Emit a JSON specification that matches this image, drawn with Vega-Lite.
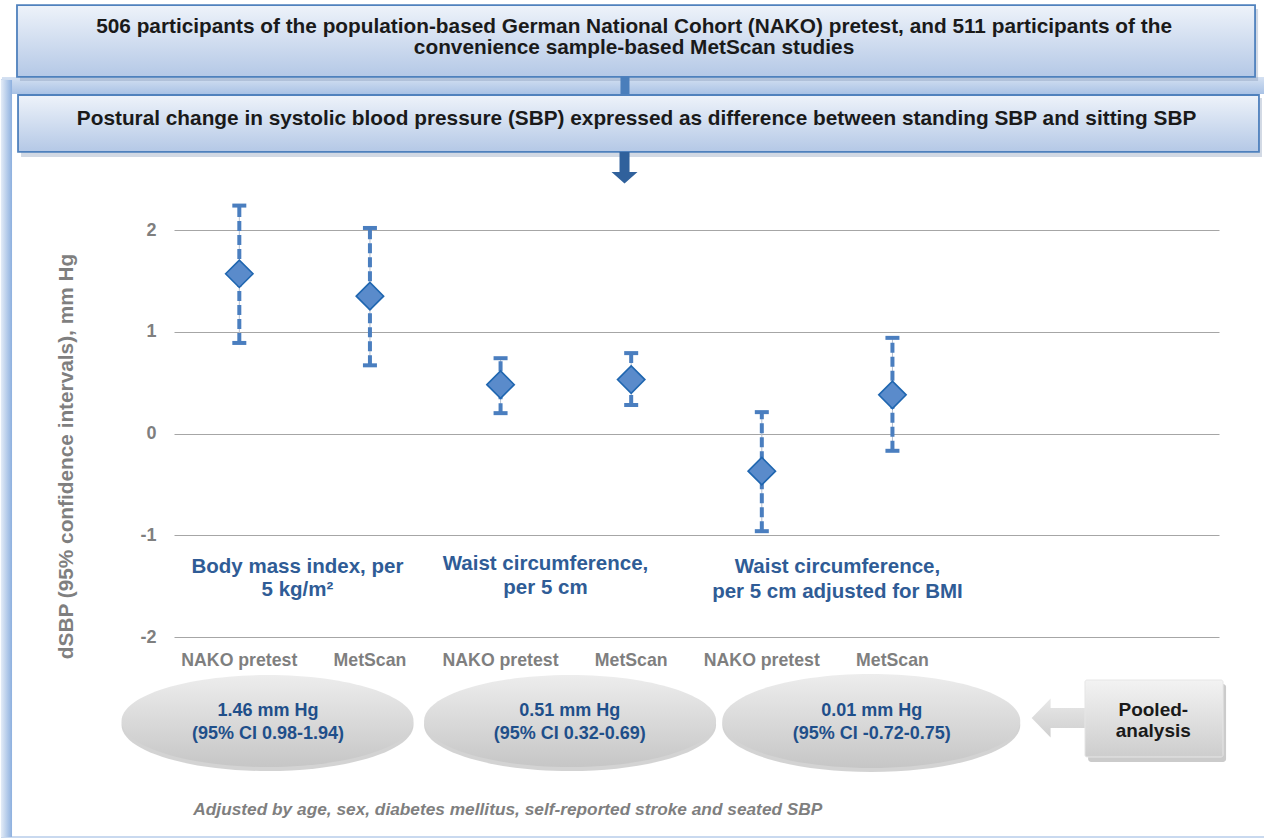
{
  "$schema": "https://vega.github.io/schema/vega-lite/v6.json",
  "width": 1045,
  "height": 407,
  "autosize": {"type": "none"},
  "padding": {"left": 174, "top": 230, "right": 45, "bottom": 201},
  "background": "white",
  "config": {"view": {"stroke": null}, "font": "Liberation Sans"},
  "resolve": {"scale": {"x": "independent", "y": "independent"}},
  "layer": [
    {
      "data": {"values": [{}]},
      "layer": [
        {"mark": {"type": "rect", "fillOpacity": 0, "stroke": "#c9d9ef", "strokeWidth": 2},
         "encoding": {"x": {"datum": -1.317, "type": "quantitative", "scale": {"domain": [0, 8], "nice": false, "zero": false}, "axis": null}, "x2": {"datum": 8.5},
                      "y": {"datum": 3.474, "type": "quantitative", "scale": {"domain": [-2, 2], "nice": false, "zero": false}, "axis": null}, "y2": {"datum": -3.966}}},
        {"mark": {"type": "rect", "fill": {"gradient": "linear", "x1": 0, "y1": 0, "x2": 0, "y2": 1, "stops": [{"offset": 0, "color": "#d5e1f2"}, {"offset": 1, "color": "#a9c2e5"}]}},
         "encoding": {"x": {"datum": -1.317, "type": "quantitative", "scale": {"domain": [0, 8], "nice": false, "zero": false}, "axis": null}, "x2": {"datum": 8.391},
                      "y": {"datum": 3.504, "type": "quantitative", "scale": {"domain": [-2, 2], "nice": false, "zero": false}, "axis": null}, "y2": {"datum": 3.336}}},
        {"mark": {"type": "rect", "fill": {"gradient": "linear", "x1": 0, "y1": 0, "x2": 1, "y2": 0, "stops": [{"offset": 0, "color": "#e4ecf7"}, {"offset": 1, "color": "#8db0df"}]}},
         "encoding": {"x": {"datum": -1.325, "type": "quantitative", "scale": {"domain": [0, 8], "nice": false, "zero": false}, "axis": null}, "x2": {"datum": -1.24},
                      "y": {"datum": 3.474, "type": "quantitative", "scale": {"domain": [-2, 2], "nice": false, "zero": false}, "axis": null}, "y2": {"datum": -3.966}}},
        {"mark": {"type": "rect", "fill": "#7f93b3", "opacity": 0.35},
         "encoding": {"x": {"datum": -1.179, "type": "quantitative", "scale": {"domain": [0, 8], "nice": false, "zero": false}, "axis": null}, "x2": {"datum": 8.299},
                      "y": {"datum": 4.172, "type": "quantitative", "scale": {"domain": [-2, 2], "nice": false, "zero": false}, "axis": null}, "y2": {"datum": 3.464}}},
        {"mark": {"type": "rect", "stroke": "#4f81bd", "strokeWidth": 1.8, "fill": {"gradient": "linear", "x1": 0, "y1": 0, "x2": 0, "y2": 1, "stops": [{"offset": 0, "color": "#eef3fa"}, {"offset": 1, "color": "#b4c8e6"}]}},
         "encoding": {"x": {"datum": -1.202, "type": "quantitative", "scale": {"domain": [0, 8], "nice": false, "zero": false}, "axis": null}, "x2": {"datum": 8.276},
                      "y": {"datum": 4.211, "type": "quantitative", "scale": {"domain": [-2, 2], "nice": false, "zero": false}, "axis": null}, "y2": {"datum": 3.504}}},
        {"mark": {"type": "rect", "fill": "#4a7ebb"},
         "encoding": {"x": {"datum": 3.418, "type": "quantitative", "scale": {"domain": [0, 8], "nice": false, "zero": false}, "axis": null}, "x2": {"datum": 3.487},
                      "y": {"datum": 3.504, "type": "quantitative", "scale": {"domain": [-2, 2], "nice": false, "zero": false}, "axis": null}, "y2": {"datum": 3.327}}},
        {"mark": {"type": "text", "text": ["506 participants of the population-based German National Cohort (NAKO) pretest, and 511 participants of the", "convenience sample-based MetScan studies"], "fontSize": 20.8, "fontWeight": "bold", "color": "#1a1a1a", "align": "center", "baseline": "middle", "lineHeight": 21.6},
         "encoding": {"x": {"datum": 3.522, "type": "quantitative", "scale": {"domain": [0, 8], "nice": false, "zero": false}, "axis": null},
                      "y": {"datum": 3.998, "type": "quantitative", "scale": {"domain": [-2, 2], "nice": false, "zero": false}, "axis": null}}},
        {"mark": {"type": "rect", "fill": "#7f93b3", "opacity": 0.35},
         "encoding": {"x": {"datum": -1.171, "type": "quantitative", "scale": {"domain": [0, 8], "nice": false, "zero": false}, "axis": null}, "x2": {"datum": 8.329},
                      "y": {"datum": 3.297, "type": "quantitative", "scale": {"domain": [-2, 2], "nice": false, "zero": false}, "axis": null}, "y2": {"datum": 2.717}}},
        {"mark": {"type": "rect", "stroke": "#4f81bd", "strokeWidth": 1.8, "fill": {"gradient": "linear", "x1": 0, "y1": 0, "x2": 0, "y2": 1, "stops": [{"offset": 0, "color": "#eef3fa"}, {"offset": 1, "color": "#b4c8e6"}]}},
         "encoding": {"x": {"datum": -1.194, "type": "quantitative", "scale": {"domain": [0, 8], "nice": false, "zero": false}, "axis": null}, "x2": {"datum": 8.306},
                      "y": {"datum": 3.327, "type": "quantitative", "scale": {"domain": [-2, 2], "nice": false, "zero": false}, "axis": null}, "y2": {"datum": 2.767}}},
        {"mark": {"type": "text", "text": "Postural change in systolic blood pressure (SBP) expressed as difference between standing SBP and sitting SBP", "fontSize": 20.8, "fontWeight": "bold", "color": "#1a1a1a", "align": "center", "baseline": "middle"},
         "encoding": {"x": {"datum": 3.541, "type": "quantitative", "scale": {"domain": [0, 8], "nice": false, "zero": false}, "axis": null},
                      "y": {"datum": 3.088, "type": "quantitative", "scale": {"domain": [-2, 2], "nice": false, "zero": false}, "axis": null}}},
        {"mark": {"type": "point", "shape": "M-0.385,0L0.385,0L0.385,1.54L1,1.54L0,2.425L-1,1.54L-0.385,1.54Z", "size": 676, "filled": true, "fill": "#30619c", "opacity": 1, "strokeWidth": 0},
         "encoding": {"x": {"datum": 3.449, "type": "quantitative", "scale": {"domain": [0, 8], "nice": false, "zero": false}, "axis": null},
                      "y": {"datum": 2.767, "type": "quantitative", "scale": {"domain": [-2, 2], "nice": false, "zero": false}, "axis": null}}},
        {"mark": {"type": "text", "text": ["Body mass index, per", "5 kg/m²"], "fontSize": 20.5, "fontWeight": "bold", "color": "#2f5c96", "align": "center", "baseline": "middle", "lineHeight": 23.5},
         "encoding": {"x": {"datum": 0.945, "type": "quantitative", "scale": {"domain": [0, 8], "nice": false, "zero": false}, "axis": null},
                      "y": {"datum": -1.309, "type": "quantitative", "scale": {"domain": [-2, 2], "nice": false, "zero": false}, "axis": null}}},
        {"mark": {"type": "text", "text": ["Waist circumference,", "per 5 cm"], "fontSize": 20.5, "fontWeight": "bold", "color": "#2f5c96", "align": "center", "baseline": "middle", "lineHeight": 24},
         "encoding": {"x": {"datum": 2.844, "type": "quantitative", "scale": {"domain": [0, 8], "nice": false, "zero": false}, "axis": null},
                      "y": {"datum": -1.286, "type": "quantitative", "scale": {"domain": [-2, 2], "nice": false, "zero": false}, "axis": null}}},
        {"mark": {"type": "text", "text": ["Waist circumference,", "per 5 cm adjusted for BMI"], "fontSize": 20.5, "fontWeight": "bold", "color": "#2f5c96", "align": "center", "baseline": "middle", "lineHeight": 25},
         "encoding": {"x": {"datum": 5.079, "type": "quantitative", "scale": {"domain": [0, 8], "nice": false, "zero": false}, "axis": null},
                      "y": {"datum": -1.309, "type": "quantitative", "scale": {"domain": [-2, 2], "nice": false, "zero": false}, "axis": null}}},
        {"mark": {"type": "point", "shape": "M-1,0C-1,-0.174,-0.5523,-0.315,0,-0.315C0.5523,-0.315,1,-0.174,1,0C1,0.174,0.5523,0.315,0,0.315C-0.5523,0.315,-1,0.174,-1,0Z", "size": 85264, "filled": true, "fill": "#a8a8a8", "opacity": 0.5, "strokeWidth": 0, "yOffset": 4},
         "encoding": {"x": {"datum": 0.716, "type": "quantitative", "scale": {"domain": [0, 8], "nice": false, "zero": false}, "axis": null},
                      "y": {"datum": -2.826, "type": "quantitative", "scale": {"domain": [-2, 2], "nice": false, "zero": false}, "axis": null}}},
        {"mark": {"type": "point", "shape": "M-1,0C-1,-0.174,-0.5523,-0.315,0,-0.315C0.5523,-0.315,1,-0.174,1,0C1,0.174,0.5523,0.315,0,0.315C-0.5523,0.315,-1,0.174,-1,0Z", "size": 85264, "filled": true, "fill": "#a8a8a8", "opacity": 0.5, "strokeWidth": 0, "yOffset": 4},
         "encoding": {"x": {"datum": 3.032, "type": "quantitative", "scale": {"domain": [0, 8], "nice": false, "zero": false}, "axis": null},
                      "y": {"datum": -2.826, "type": "quantitative", "scale": {"domain": [-2, 2], "nice": false, "zero": false}, "axis": null}}},
        {"mark": {"type": "point", "shape": "M-1,0C-1,-0.174,-0.5523,-0.315,0,-0.315C0.5523,-0.315,1,-0.174,1,0C1,0.174,0.5523,0.315,0,0.315C-0.5523,0.315,-1,0.174,-1,0Z", "size": 88804, "filled": true, "fill": "#a8a8a8", "opacity": 0.5, "strokeWidth": 0, "yOffset": 4},
         "encoding": {"x": {"datum": 5.338, "type": "quantitative", "scale": {"domain": [0, 8], "nice": false, "zero": false}, "axis": null},
                      "y": {"datum": -2.826, "type": "quantitative", "scale": {"domain": [-2, 2], "nice": false, "zero": false}, "axis": null}}},
        {"mark": {"type": "point", "shape": "M-1,0C-1,-0.174,-0.5523,-0.315,0,-0.315C0.5523,-0.315,1,-0.174,1,0C1,0.174,0.5523,0.315,0,0.315C-0.5523,0.315,-1,0.174,-1,0Z", "size": 85264, "filled": true, "opacity": 1, "strokeWidth": 0, "fill": {"gradient": "linear", "x1": 0, "y1": 0, "x2": 0, "y2": 1, "stops": [{"offset": 0, "color": "#ededed"}, {"offset": 1, "color": "#c6c6c6"}]}},
         "encoding": {"x": {"datum": 0.716, "type": "quantitative", "scale": {"domain": [0, 8], "nice": false, "zero": false}, "axis": null},
                      "y": {"datum": -2.826, "type": "quantitative", "scale": {"domain": [-2, 2], "nice": false, "zero": false}, "axis": null}}},
        {"mark": {"type": "point", "shape": "M-1,0C-1,-0.174,-0.5523,-0.315,0,-0.315C0.5523,-0.315,1,-0.174,1,0C1,0.174,0.5523,0.315,0,0.315C-0.5523,0.315,-1,0.174,-1,0Z", "size": 85264, "filled": true, "opacity": 1, "strokeWidth": 0, "fill": {"gradient": "linear", "x1": 0, "y1": 0, "x2": 0, "y2": 1, "stops": [{"offset": 0, "color": "#ededed"}, {"offset": 1, "color": "#c6c6c6"}]}},
         "encoding": {"x": {"datum": 3.032, "type": "quantitative", "scale": {"domain": [0, 8], "nice": false, "zero": false}, "axis": null},
                      "y": {"datum": -2.826, "type": "quantitative", "scale": {"domain": [-2, 2], "nice": false, "zero": false}, "axis": null}}},
        {"mark": {"type": "point", "shape": "M-1,0C-1,-0.174,-0.5523,-0.315,0,-0.315C0.5523,-0.315,1,-0.174,1,0C1,0.174,0.5523,0.315,0,0.315C-0.5523,0.315,-1,0.174,-1,0Z", "size": 88804, "filled": true, "opacity": 1, "strokeWidth": 0, "fill": {"gradient": "linear", "x1": 0, "y1": 0, "x2": 0, "y2": 1, "stops": [{"offset": 0, "color": "#ededed"}, {"offset": 1, "color": "#c6c6c6"}]}},
         "encoding": {"x": {"datum": 5.338, "type": "quantitative", "scale": {"domain": [0, 8], "nice": false, "zero": false}, "axis": null},
                      "y": {"datum": -2.826, "type": "quantitative", "scale": {"domain": [-2, 2], "nice": false, "zero": false}, "axis": null}}},
        {"mark": {"type": "text", "text": ["1.46 mm Hg", "(95% CI 0.98-1.94)"], "fontSize": 18, "fontWeight": "bold", "color": "#1f4f8a", "align": "center", "baseline": "middle", "lineHeight": 22.7},
         "encoding": {"x": {"datum": 0.72, "type": "quantitative", "scale": {"domain": [0, 8], "nice": false, "zero": false}, "axis": null},
                      "y": {"datum": -2.732, "type": "quantitative", "scale": {"domain": [-2, 2], "nice": false, "zero": false}, "axis": null}}},
        {"mark": {"type": "text", "text": ["0.51 mm Hg", "(95% CI 0.32-0.69)"], "fontSize": 18, "fontWeight": "bold", "color": "#1f4f8a", "align": "center", "baseline": "middle", "lineHeight": 22.7},
         "encoding": {"x": {"datum": 3.029, "type": "quantitative", "scale": {"domain": [0, 8], "nice": false, "zero": false}, "axis": null},
                      "y": {"datum": -2.732, "type": "quantitative", "scale": {"domain": [-2, 2], "nice": false, "zero": false}, "axis": null}}},
        {"mark": {"type": "text", "text": ["0.01 mm Hg", "(95% CI -0.72-0.75)"], "fontSize": 18, "fontWeight": "bold", "color": "#1f4f8a", "align": "center", "baseline": "middle", "lineHeight": 22.7},
         "encoding": {"x": {"datum": 5.341, "type": "quantitative", "scale": {"domain": [0, 8], "nice": false, "zero": false}, "axis": null},
                      "y": {"datum": -2.732, "type": "quantitative", "scale": {"domain": [-2, 2], "nice": false, "zero": false}, "axis": null}}},
        {"mark": {"type": "point", "shape": "M0,0L0.97,-1L0.97,-0.51L2.74,-0.51L2.74,0.51L0.97,0.51L0.97,1Z", "size": 1521, "filled": true, "opacity": 1, "strokeWidth": 0, "fill": {"gradient": "linear", "x1": 0, "y1": 0, "x2": 0, "y2": 1, "stops": [{"offset": 0, "color": "#e8e8e8"}, {"offset": 1, "color": "#cfcfcf"}]}},
         "encoding": {"x": {"datum": 6.566, "type": "quantitative", "scale": {"domain": [0, 8], "nice": false, "zero": false}, "axis": null},
                      "y": {"datum": -2.796, "type": "quantitative", "scale": {"domain": [-2, 2], "nice": false, "zero": false}, "axis": null}}},
        {"mark": {"type": "rect", "fill": "#8c8c8c", "opacity": 0.45, "cornerRadius": 3},
         "encoding": {"x": {"datum": 6.998, "type": "quantitative", "scale": {"domain": [0, 8], "nice": false, "zero": false}, "axis": null}, "x2": {"datum": 8.054},
                      "y": {"datum": -2.462, "type": "quantitative", "scale": {"domain": [-2, 2], "nice": false, "zero": false}, "axis": null}, "y2": {"datum": -3.229}}},
        {"mark": {"type": "rect", "cornerRadius": 2, "stroke": "#e6e6e6", "strokeWidth": 1, "fill": {"gradient": "linear", "x1": 0, "y1": 0, "x2": 0, "y2": 1, "stops": [{"offset": 0, "color": "#f3f3f3"}, {"offset": 1, "color": "#cdcdcd"}]}},
         "encoding": {"x": {"datum": 6.974, "type": "quantitative", "scale": {"domain": [0, 8], "nice": false, "zero": false}, "axis": null}, "x2": {"datum": 8.031},
                      "y": {"datum": -2.423, "type": "quantitative", "scale": {"domain": [-2, 2], "nice": false, "zero": false}, "axis": null}, "y2": {"datum": -3.179}}},
        {"mark": {"type": "text", "text": ["Pooled-", "analysis"], "fontSize": 19, "fontWeight": "bold", "color": "#1a1a1a", "align": "center", "baseline": "middle", "lineHeight": 21.7},
         "encoding": {"x": {"datum": 7.497, "type": "quantitative", "scale": {"domain": [0, 8], "nice": false, "zero": false}, "axis": null},
                      "y": {"datum": -2.715, "type": "quantitative", "scale": {"domain": [-2, 2], "nice": false, "zero": false}, "axis": null}}},
        {"mark": {"type": "text", "text": "Adjusted by age, sex, diabetes mellitus, self-reported stroke and seated SBP", "fontSize": 17.3, "fontWeight": "bold", "fontStyle": "italic", "color": "#7f7f7f", "align": "left", "baseline": "middle"},
         "encoding": {"x": {"datum": 0.148, "type": "quantitative", "scale": {"domain": [0, 8], "nice": false, "zero": false}, "axis": null},
                      "y": {"datum": -3.7, "type": "quantitative", "scale": {"domain": [-2, 2], "nice": false, "zero": false}, "axis": null}}}
      ]
    },
    {
      "data": {"values": [
        {"group": "BMI: NAKO pretest", "exposure": "Body mass index, per 5 kg/m²", "study": "NAKO pretest", "est": 1.57, "lo": 0.89, "hi": 2.24},
        {"group": "BMI: MetScan", "exposure": "Body mass index, per 5 kg/m²", "study": "MetScan", "est": 1.35, "lo": 0.67, "hi": 2.02},
        {"group": "Waist: NAKO pretest", "exposure": "Waist circumference, per 5 cm", "study": "NAKO pretest", "est": 0.48, "lo": 0.2, "hi": 0.74},
        {"group": "Waist: MetScan", "exposure": "Waist circumference, per 5 cm", "study": "MetScan", "est": 0.53, "lo": 0.28, "hi": 0.79},
        {"group": "Waist adj. BMI: NAKO pretest", "exposure": "Waist circumference, per 5 cm adjusted for BMI", "study": "NAKO pretest", "est": -0.37, "lo": -0.96, "hi": 0.21},
        {"group": "Waist adj. BMI: MetScan", "exposure": "Waist circumference, per 5 cm adjusted for BMI", "study": "MetScan", "est": 0.38, "lo": -0.17, "hi": 0.94}
      ]},
      "encoding": {
        "x": {"field": "group", "type": "nominal", "sort": null,
              "scale": {"type": "band", "paddingInner": 0, "paddingOuter": 0,
                        "domain": ["BMI: NAKO pretest", "BMI: MetScan", "Waist: NAKO pretest", "Waist: MetScan", "Waist adj. BMI: NAKO pretest", "Waist adj. BMI: MetScan", "(empty 1)", "(empty 2)"]},
              "axis": {"title": null, "labelAngle": 0, "domain": false, "ticks": false, "tickSize": 0, "grid": false, "labelPadding": 14,
                       "labelFontSize": 17.7, "labelFontWeight": "bold", "labelColor": "#7f7f7f", "labelFont": "Liberation Sans",
                       "labelExpr": "indexof(datum.label, ': ') < 0 ? '' : split(datum.label, ': ')[1]"}}
      },
      "layer": [
        {"mark": {"type": "rule", "color": "#b3bfd0", "strokeWidth": 1},
         "encoding": {"y": {"field": "lo", "type": "quantitative", "title": "dSBP (95% confidence intervals), mm Hg", "scale": {"domain": [-2, 2], "nice": false, "zero": false},
                            "axis": {"values": [-2, -1, 0, 1, 2], "grid": true, "gridColor": "#a6a6a6", "gridWidth": 1, "domain": false, "ticks": false, "tickSize": 0,
                                     "labelPadding": 18, "labelFontSize": 18, "labelFontWeight": "bold", "labelColor": "#7f7f7f", "labelFont": "Liberation Sans",
                                     "labelExpr": "toString(datum.value)",
                                     "titleX": -108, "titleY": 226, "titleAngle": 270,
                                     "titleAlign": "center", "titleBaseline": "middle", "titleFontSize": 20.8, "titleFontWeight": "bold", "titleColor": "#7f7f7f", "titleFont": "Liberation Sans"}},
                      "y2": {"field": "hi"}}},
        {"mark": {"type": "rule", "color": "#4a7ebf", "strokeWidth": 4, "strokeDash": [10, 4]},
         "encoding": {"y": {"field": "lo", "type": "quantitative", "title": "dSBP (95% confidence intervals), mm Hg", "scale": {"domain": [-2, 2], "nice": false, "zero": false},
                            "axis": {"values": [-2, -1, 0, 1, 2], "grid": true, "gridColor": "#a6a6a6", "gridWidth": 1, "domain": false, "ticks": false, "tickSize": 0,
                                     "labelPadding": 18, "labelFontSize": 18, "labelFontWeight": "bold", "labelColor": "#7f7f7f", "labelFont": "Liberation Sans",
                                     "labelExpr": "toString(datum.value)",
                                     "titleX": -108, "titleY": 226, "titleAngle": 270,
                                     "titleAlign": "center", "titleBaseline": "middle", "titleFontSize": 20.8, "titleFontWeight": "bold", "titleColor": "#7f7f7f", "titleFont": "Liberation Sans"}},
                      "y2": {"field": "hi"}}},
        {"mark": {"type": "tick", "color": "#4a7ebf", "size": 14, "thickness": 4, "orient": "horizontal", "opacity": 1},
         "encoding": {"y": {"field": "lo", "type": "quantitative", "title": "dSBP (95% confidence intervals), mm Hg", "scale": {"domain": [-2, 2], "nice": false, "zero": false},
                            "axis": {"values": [-2, -1, 0, 1, 2], "grid": true, "gridColor": "#a6a6a6", "gridWidth": 1, "domain": false, "ticks": false, "tickSize": 0,
                                     "labelPadding": 18, "labelFontSize": 18, "labelFontWeight": "bold", "labelColor": "#7f7f7f", "labelFont": "Liberation Sans",
                                     "labelExpr": "toString(datum.value)",
                                     "titleX": -108, "titleY": 226, "titleAngle": 270,
                                     "titleAlign": "center", "titleBaseline": "middle", "titleFontSize": 20.8, "titleFontWeight": "bold", "titleColor": "#7f7f7f", "titleFont": "Liberation Sans"}}}},
        {"mark": {"type": "tick", "color": "#4a7ebf", "size": 14, "thickness": 4, "orient": "horizontal", "opacity": 1},
         "encoding": {"y": {"field": "hi", "type": "quantitative", "title": "dSBP (95% confidence intervals), mm Hg", "scale": {"domain": [-2, 2], "nice": false, "zero": false},
                            "axis": {"values": [-2, -1, 0, 1, 2], "grid": true, "gridColor": "#a6a6a6", "gridWidth": 1, "domain": false, "ticks": false, "tickSize": 0,
                                     "labelPadding": 18, "labelFontSize": 18, "labelFontWeight": "bold", "labelColor": "#7f7f7f", "labelFont": "Liberation Sans",
                                     "labelExpr": "toString(datum.value)",
                                     "titleX": -108, "titleY": 226, "titleAngle": 270,
                                     "titleAlign": "center", "titleBaseline": "middle", "titleFontSize": 20.8, "titleFontWeight": "bold", "titleColor": "#7f7f7f", "titleFont": "Liberation Sans"}}}},
        {"mark": {"type": "point", "shape": "diamond", "size": 750, "filled": true, "fill": "#5a8bcb", "stroke": "#1f66b0", "strokeWidth": 1.6, "opacity": 1, "fillOpacity": 1},
         "encoding": {"y": {"field": "est", "type": "quantitative", "title": "dSBP (95% confidence intervals), mm Hg", "scale": {"domain": [-2, 2], "nice": false, "zero": false},
                            "axis": {"values": [-2, -1, 0, 1, 2], "grid": true, "gridColor": "#a6a6a6", "gridWidth": 1, "domain": false, "ticks": false, "tickSize": 0,
                                     "labelPadding": 18, "labelFontSize": 18, "labelFontWeight": "bold", "labelColor": "#7f7f7f", "labelFont": "Liberation Sans",
                                     "labelExpr": "toString(datum.value)",
                                     "titleX": -108, "titleY": 226, "titleAngle": 270,
                                     "titleAlign": "center", "titleBaseline": "middle", "titleFontSize": 20.8, "titleFontWeight": "bold", "titleColor": "#7f7f7f", "titleFont": "Liberation Sans"}}}}
      ]
    }
  ]
}
